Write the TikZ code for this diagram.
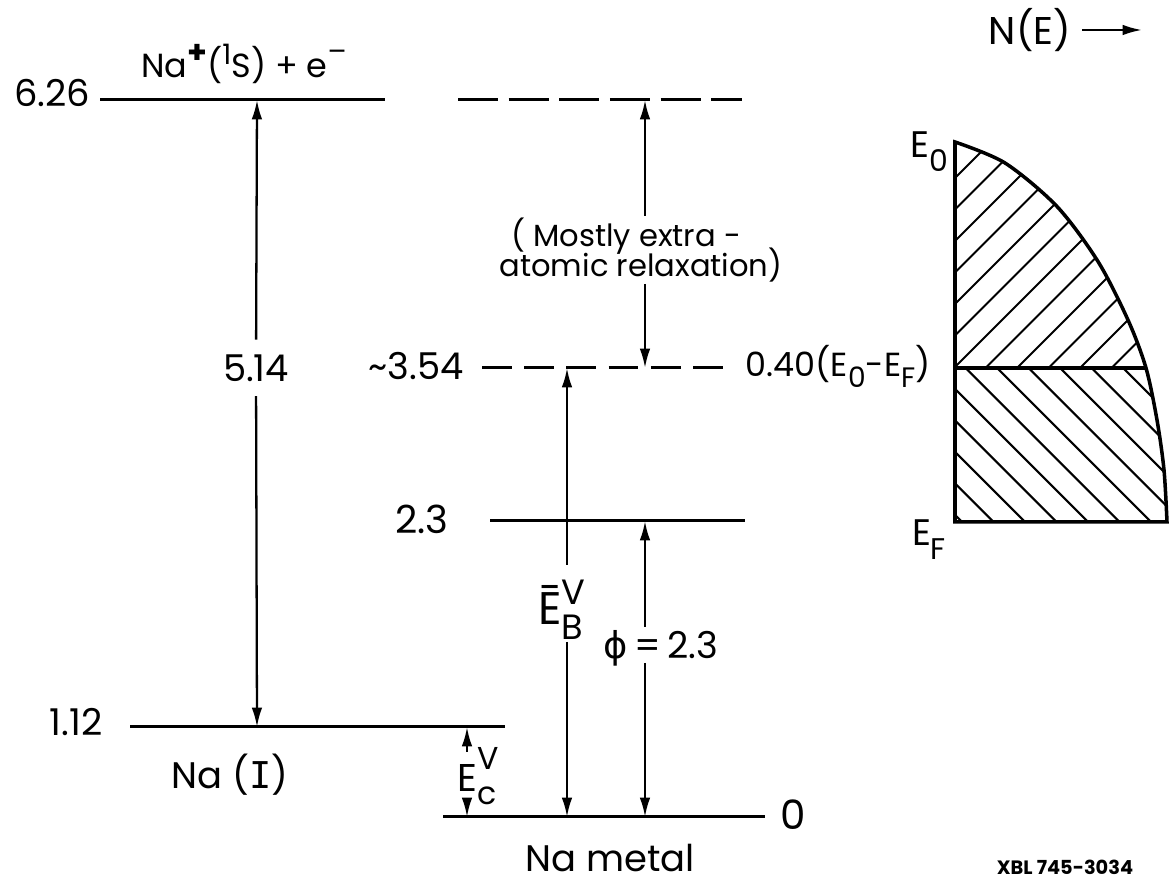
\documentclass[tikz,border=0pt]{standalone}
\usepackage{fontspec}
\setmainfont{Poppins}
\newfontfamily\symf{DejaVu Sans}
\newfontfamily\monof{DejaVu Sans Mono}
\usetikzlibrary{arrows.meta}
\newcommand\fsz[1]{\fontsize{#1}{#1}\selectfont}
\newcommand\upbox[3]{\raisebox{#1}{\fsz{#2}#3}}
\newcommand\stk[5]{\raisebox{#1}{\fsz{#2}\shortstack[l]{#3\\[#5]#4}}}
\begin{document}
\begin{tikzpicture}[x=0.01cm,y=-0.01cm,
  lvl/.style={line width=0.85pt},
  dashA/.style={line width=0.85pt, dash pattern=on 11.4pt off 3pt},
  dashB/.style={line width=0.85pt, dash pattern=on 8.5pt off 3.5pt},
  arr/.style={line width=0.65pt,-{Latex[length=5.5pt,width=3pt]}},
  lab/.style={inner sep=0pt, font=\fsz{10}},
  num/.style={inner sep=0pt, font=\fsz{10.5}},
  dos/.style={line width=1pt},
  hatch/.style={line width=0.6pt}]
\useasboundingbox (0,0) rectangle (1169,895);

% ---------- levels ----------
\coordinate (L626a) at (100,100); \coordinate (L626b) at (385,100);
\coordinate (D626a) at (458,100); \coordinate (D626b) at (742,100);
\coordinate (D354a) at (482,368); \coordinate (D354b) at (723,368);
\coordinate (L23a) at (490,521);  \coordinate (L23b) at (745,521);
\coordinate (L112a) at (130,727); \coordinate (L112b) at (505,727);
\coordinate (L0a) at (443,817);   \coordinate (L0b) at (765,817);
\draw[lvl] (L626a) -- (L626b);
\draw[dashA] (D626a) -- (D626b);
\draw[dashB] (D354a) -- (D354b);
\draw[lvl] (L23a) -- (L23b);
\draw[lvl] (L112a) -- (L112b);
\draw[lvl] (L0a) -- (L0b);

% ---------- level labels ----------
\node[num] (t626) at (52,93) {6.26};
\node[lab,font=\fsz{9.5}] (tion) at (244,64) {Na\upbox{0.8ex}{9}{\textbf{+}}(\upbox{0.75ex}{8}{1}S) + e\upbox{0.9ex}{8}{–}};
\node[num] (t112) at (76,722) {1.12};
\node[lab,font=\fsz{10.5}] (tNaI) at (230,775) {Na ({\monof I})};
\node[num] (t354) at (416,366) {\textasciitilde 3.54};
\node[num,font=\fsz{11}] (t23) at (422,519) {2.3};
\node[lab,font=\fsz{9.5},anchor=west] (t040) at (745,366) {0.40(E\upbox{-0.6ex}{8}{0}-E\upbox{-0.6ex}{8}{F})};
\node[num,font=\fsz{11.5}] (t0) at (793,815) {0};
\node[lab,font=\fsz{10.5}] (tNam) at (610,858) {Na metal};
\node[lab,font=\fsz{5.5}\bfseries] (tXBL) at (1065,867) {XBL 745-3034};

% ---------- 5.14 ----------
\coordinate (A514t) at (257,100); \coordinate (A514b) at (257,727);
\node[num,inner sep=4pt] (t514) at (256,368) {5.14};
\draw[arr] (t514) -- (A514t);
\draw[arr] (t514) -- (A514b);

% ---------- relaxation ----------
\coordinate (ARt) at (645,100); \coordinate (ARb) at (645,368);
\coordinate (ARg1) at (645,216); \coordinate (ARg2) at (645,284);
\node[lab,font=\fsz{8.7}] (tmostA) at (626,236) {( Mostly extra -};
\node[lab,font=\fsz{8.7}] (tmostB) at (641,265) {atomic relaxation)};
\draw[arr] (ARg1) -- (ARt);
\draw[arr] (ARg2) -- (ARb);

% ---------- E_B^V ----------
\coordinate (EBt) at (567,368); \coordinate (EBb) at (567,817);
\coordinate (EBg1) at (567,565); \coordinate (EBg2) at (567,642);
\node[lab,font=\fsz{13}] (tEB) at (562,610) {Ē\stk{-4.3pt}{10}{V}{B}{0pt}};
\draw[arr] (EBg1) -- (EBt);
\draw[arr] (EBg2) -- (EBb);

% ---------- phi ----------
\coordinate (PHt) at (645,521); \coordinate (PHb) at (645,817);
\coordinate (PHg1) at (645,627); \coordinate (PHg2) at (645,663);
\node[lab,font=\fsz{10.5}] (tphi) at (661,648) {{\symf ϕ}\,=\,2.3};
\draw[arr] (PHg1) -- (PHt);
\draw[arr] (PHg2) -- (PHb);

% ---------- E_c^V ----------
\coordinate (ECt) at (467,727); \coordinate (ECb) at (467,817);
\coordinate (ECg1) at (467,752); \coordinate (ECg2) at (467,803);
\node[lab,font=\fsz{11}] (tEc) at (478,776) {E\stk{-3.7pt}{9}{V}{c}{2pt}};
\draw[arr] (ECg1) -- (ECt);
\draw[arr] (ECg2) -- (ECb);

% ---------- density of states ----------
\coordinate (E0) at (955,142); \coordinate (EFc) at (955,522);
\coordinate (Mid) at (955,368); \coordinate (MidR) at (1146,368);
\coordinate (BR) at (1167,522);
\begin{scope}
  \clip (900,120) rectangle (1200,368);
  \clip plot[smooth] coordinates {(955,142) (1005,163) (1057,206.5) (1098,261.5) (1128,320) (1146,368) (1157,420) (1164,470) (1167,522)} -- (955,522) -- cycle;
  \foreach \c in {1133,1164.5,...,1520} {
    \draw[hatch] (\c-400,400) -- (\c-100,100);
  }
\end{scope}
\begin{scope}
  \clip (900,368) rectangle (1200,540);
  \clip plot[smooth] coordinates {(955,142) (1005,163) (1057,206.5) (1098,261.5) (1128,320) (1146,368) (1157,420) (1164,470) (1167,522)} -- (955,522) -- cycle;
  \foreach \d in {-440,-471.5,...,-800} {
    \draw[hatch] (900,900+\d) -- (1200,1200+\d);
  }
\end{scope}
\draw[dos] plot[smooth] coordinates {(955,142) (1005,163) (1057,206.5) (1098,261.5) (1128,320) (1146,368) (1157,420) (1164,470) (1167,522)} -- (EFc) -- cycle;
\draw[dos] (Mid) -- (MidR);
\node[lab,font=\fsz{10.5}] (tE0) at (929,152) {E\upbox{-0.7ex}{8.5}{0}};
\node[lab,font=\fsz{10.5}] (tEF) at (929,540) {E\upbox{-0.7ex}{8.5}{F}};

% ---------- N(E) ----------
\node[lab,font=\fsz{11}] (tNE) at (1030,30) {N(E)};
\coordinate (NEend) at (1142,30);
\draw[arr] ([xshift=3pt]tNE.east) -- (NEend);
\end{tikzpicture}
\end{document}
